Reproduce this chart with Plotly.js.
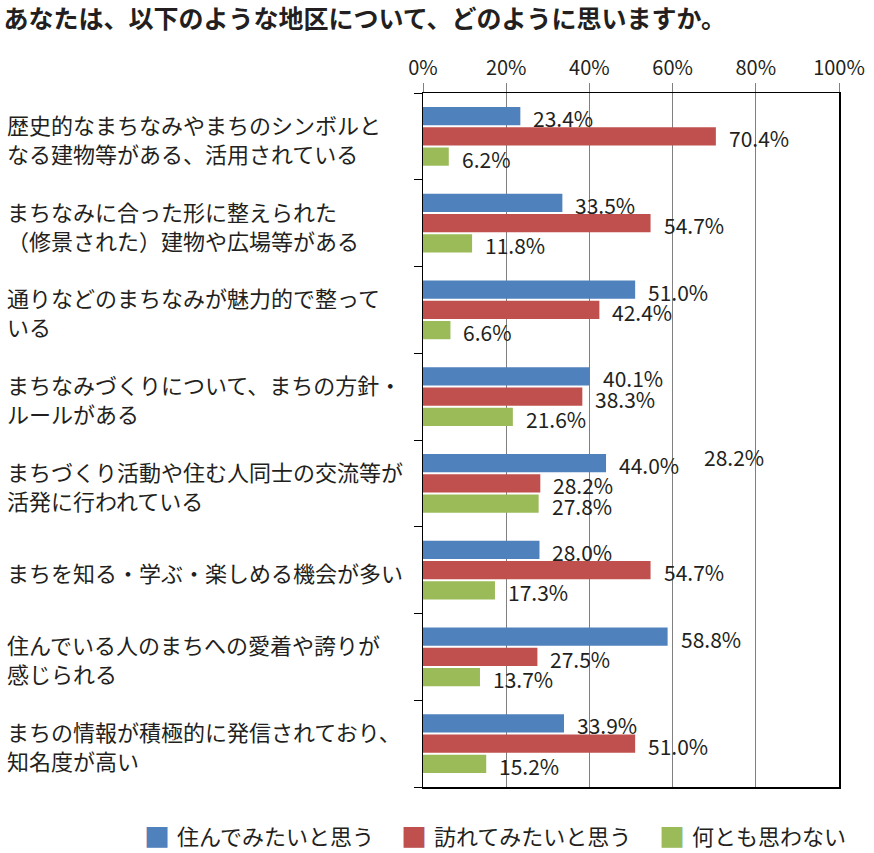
<!DOCTYPE html>
<html>
<head>
<meta charset="utf-8">
<script src="https://cdn.plot.ly/plotly-3.0.1.min.js"></script>
<style>html,body{margin:0;padding:0;background:#fff;}#chart{width:874px;height:853px;}</style>
</head>
<body>
<div id="chart"></div>
<script>
const categories = [
  "歴史的なまちなみやまちのシンボルと<br>なる建物等がある、活用されている",
  "まちなみに合った形に整えられた<br>（修景された）建物や広場等がある",
  "通りなどのまちなみが魅力的で整って<br>いる",
  "まちなみづくりについて、まちの方針・<br>ルールがある",
  "まちづくり活動や住む人同士の交流等が<br>活発に行われている",
  "まちを知る・学ぶ・楽しめる機会が多い",
  "住んでいる人のまちへの愛着や誇りが<br>感じられる",
  "まちの情報が積極的に発信されており、<br>知名度が高い"
];
const seriesNames = ["住んでみたいと思う", "訪れてみたいと思う", "何とも思わない"];
const liveValues = [23.4, 33.5, 51.0, 40.1, 44.0, 28.0, 58.8, 33.9];
const visitValues = [70.4, 54.7, 42.4, 38.3, 28.2, 54.7, 27.5, 51.0];
const neitherValues = [6.2, 11.8, 6.6, 21.6, 27.8, 17.3, 13.7, 15.2];
const xTickValues = [0, 20, 40, 60, 80, 100];
const xTickLabels = ["0%", "20%", "40%", "60%", "80%", "100%"];
const strayLabel = {text: "28.2%", x: 67, category: 4};

const colors = ["#4F81BD", "#C0504D", "#9BBB59"];
const txt = "#231f20";
const FONT = "'Noto Sans CJK JP', 'Noto Sans', sans-serif";
const allSeries = [liveValues, visitValues, neitherValues];
const idx = categories.map((c, i) => i);

const BARGAP = 0.3;
const slot = (1 - BARGAP) / 3;

// plot area in pixels (for converting legend placement to paper units)
const M = {l: 423, r: 35, t: 93, b: 66};
const W = 874, H = 853;
const PW = W - M.l - M.r, PH = H - M.t - M.b;
const px2x = p => (p - M.l) / PW;
const py2y = p => (H - M.b - p) / PH;

const traces = allSeries.map((vals, s) => ({
  type: "bar",
  orientation: "h",
  name: seriesNames[s],
  x: vals,
  y: idx,
  marker: {color: colors[s], line: {width: 0}},
  hoverinfo: "x+name",
  showlegend: false
}));

const annotations = [];
allSeries.forEach((vals, s) => {
  vals.forEach((v, i) => {
    annotations.push({
      xref: "x", yref: "y",
      x: v, y: i + (s - 1) * slot,
      text: v.toFixed(1) + "%",
      showarrow: false,
      xanchor: "left", yanchor: "middle",
      xshift: 11, yshift: -2,
      font: {family: FONT, size: 21, color: txt}
    });
  });
});
annotations.push({
  xref: "x", yref: "y",
  x: strayLabel.x, y: strayLabel.category - slot,
  text: strayLabel.text, showarrow: false,
  xanchor: "left", yanchor: "middle", yshift: 6,
  font: {family: FONT, size: 21, color: txt}
});
categories.forEach((c, i) => {
  annotations.push({
    xref: "paper", yref: "y",
    x: px2x(5), y: i,
    text: c, showarrow: false,
    xanchor: "left", yanchor: "middle", align: "left",
    yshift: -2,
    font: {family: FONT, size: 22, color: txt}
  });
});

// legend (keys and names)
const legendKeyX = [156.5, 413.5, 671.5];
const legendY = 835;
seriesNames.forEach((n, s) => {
  annotations.push({
    xref: "paper", yref: "paper",
    x: px2x(legendKeyX[s]), y: py2y(legendY),
    text: "■", showarrow: false,
    xanchor: "center", yanchor: "middle",
    font: {family: FONT, size: 26, color: colors[s]}
  });
  annotations.push({
    xref: "paper", yref: "paper",
    x: px2x(legendKeyX[s] + 18), y: py2y(legendY),
    text: n, showarrow: false,
    xanchor: "left", yanchor: "middle",
    font: {family: FONT, size: 22, color: txt}
  });
});

const layout = {
  width: W, height: H,
  margin: {l: M.l, r: M.r, t: M.t, b: M.b, pad: 0, autoexpand: false},
  paper_bgcolor: "#fff", plot_bgcolor: "#fff",
  font: {family: FONT, color: txt},
  title: {
    text: "<b>あなたは、以下のような地区について、どのように思いますか。</b>",
    x: 0.004, xref: "container", xanchor: "left",
    y: 0.978, yref: "container", yanchor: "middle",
    font: {family: FONT, size: 25, color: txt}
  },
  barmode: "group",
  bargap: BARGAP,
  bargroupgap: 0.1,
  xaxis: {
    side: "top",
    range: [0, 100],
    tickvals: xTickValues,
    ticktext: xTickLabels,
    ticks: "outside", ticklen: 9, tickcolor: "#808080", tickwidth: 1,
    showgrid: true, gridcolor: "#808080", gridwidth: 1,
    showline: true, linecolor: "#000", linewidth: 1.5, mirror: true,
    zeroline: false,
    tickfont: {family: FONT, size: 20, color: txt},
    fixedrange: true
  },
  yaxis: {
    type: "linear",
    range: [categories.length - 0.5, -0.5],
    tickvals: idx.map(i => i - 0.5).concat([categories.length - 0.5]),
    showticklabels: false,
    ticks: "outside", ticklen: 8, tickcolor: "#000", tickwidth: 1,
    showgrid: false,
    showline: true, linecolor: "#000", linewidth: 1.5, mirror: true,
    zeroline: false,
    fixedrange: true
  },
  annotations: annotations,
  showlegend: false
};

Plotly.newPlot("chart", traces, layout, {displayModeBar: false, staticPlot: true});
</script>
</body>
</html>
